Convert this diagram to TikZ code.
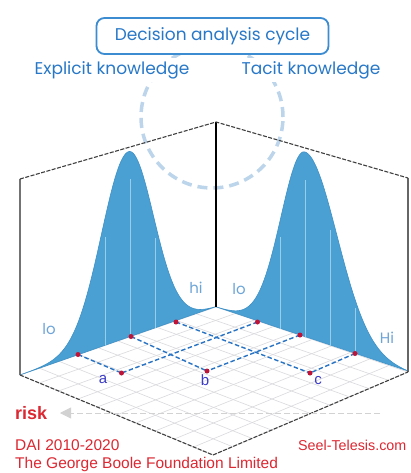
\documentclass[tikz,border=0pt]{standalone}
\usepackage{fontspec}
\setmainfont{Liberation Sans}
\newfontfamily\popfont{Poppins}
\usetikzlibrary{calc,arrows.meta}
\definecolor{bellblue}{RGB}{74,160,210}
\definecolor{bellline}{RGB}{62,145,200}
\definecolor{vlinec}{RGB}{150,205,235}
\definecolor{titleblue}{RGB}{40,120,200}
\definecolor{boxblue}{RGB}{60,140,210}
\definecolor{circblue}{RGB}{188,213,235}
\definecolor{lohiblue}{RGB}{110,165,215}
\definecolor{latblue}{RGB}{40,115,195}
\definecolor{dotred}{RGB}{190,20,55}
\definecolor{txtred}{RGB}{220,40,50}
\definecolor{abcblue}{RGB}{60,60,200}
\definecolor{gridgray}{RGB}{218,218,222}
\definecolor{arrgray}{RGB}{210,210,210}
\tikzset{
  titlebox/.style={draw=boxblue, line width=1.8pt, rounded corners=8pt, fill=white,
    minimum width=232pt, minimum height=36pt, text=titleblue,
    font=\popfont\fontsize{17}{19}\selectfont},
  knowbox/.style={fill=white, inner sep=3pt, text=titleblue, font=\popfont\fontsize{17}{19}\selectfont},
  lohi/.style={text=lohiblue, inner sep=0pt, font=\popfont\fontsize{15}{17}\selectfont},
  abc/.style={text=abcblue, inner sep=0pt, font=\fontsize{15}{17}\selectfont},
  redtext/.style={text=txtred, inner sep=0pt, anchor=west, font=\fontsize{15.5}{17}\selectfont},
  gridline/.style={draw=gridgray, line width=0.6pt},
  circ/.style={draw=circblue, line width=3.5pt, dash pattern=on 10pt off 6pt},
  bell/.style={fill=bellblue, draw=bellline, line width=0.6pt},
  innerline/.style={draw=vlinec, line width=0.8pt},
  topedge/.style={draw=black!75, line width=1.1pt, dash pattern=on 4pt off 1.5pt},
  vedge/.style={draw=black!70, line width=1.1pt},
  lattice/.style={draw=latblue, line width=1.4pt, dash pattern=on 4.5pt off 2.5pt},
  reddot/.style={circle, fill=dotred, inner sep=0pt, minimum size=5pt},
  riskarrow/.style={draw=arrgray, line width=0.8pt, dash pattern=on 6pt off 3pt,
    -{Triangle[length=11pt,width=11pt,color=arrgray,fill=arrgray]}},
  declare function={
    baseL(\t)=307+(216-\t)*0.3469;
    curveL(\t)=baseL(\t)-185.65*exp(-((\t-128.5)^2)/(2*(27-2*(\t>128.5))^2));
    baseR(\t)=307+(\t-216)*0.3385;
    curveR(\t)=baseR(\t)-185.1*exp(-((\t-305)^2)/(2*(24+8*(\t>305))^2));
  }
}
\begin{document}
\begin{tikzpicture}[x=1pt,y=-1pt]
\useasboundingbox[fill=white] (0,0) rectangle (411,473);
% floor corners
\coordinate (B) at (216,307);
\coordinate (L) at (20,375);
\coordinate (R) at (408,372);
\coordinate (F) at (213,455);
\coordinate (Ltop) at (20,179);
\coordinate (Btop) at (216,122);
\coordinate (Rtop) at (408,178);
% floor grid
\foreach \i in {0,...,10} {
  \pgfmathsetmacro\t{\i/10}
  \draw[gridline] ($(B)!\t!(R)$) -- ($(L)!\t!(F)$);
  \draw[gridline] ($(B)!\t!(L)$) -- ($(R)!\t!(F)$);
}
% dashed cycle circle
\draw[circ] (212,117) circle[radius=71pt];
% bell curves
\path[bell] plot[domain=20:216, samples=160] (\x,{curveL(\x)}) -- cycle;
\path[bell] plot[domain=216:408, samples=160] (\x,{curveR(\x)}) -- cycle;
\foreach \xx in {105,130,155} {
  \draw[innerline] (\xx,{baseL(\xx)}) -- (\xx,{baseL(\xx)-0.85*(baseL(\xx)-curveL(\xx))});
}
\foreach \xx in {280,305,330,355} {
  \draw[innerline] (\xx,{baseR(\xx)}) -- (\xx,{baseR(\xx)-0.85*(baseR(\xx)-curveR(\xx))});
}
% wall edges
\draw[vedge, draw=black!55] (Ltop) -- (L);
\draw[vedge, draw=black] (Btop) -- (B);
\draw[vedge, draw=black!60] (Rtop) -- (R);
\draw[topedge] (Ltop) -- (Btop) -- (Rtop);
\draw[topedge] (L) -- (F) -- (R);
% lattice points
\coordinate (D1) at (78,354.5);
\coordinate (D2) at (131,336.5);
\coordinate (D3) at (176,322);
\coordinate (E1) at (257.5,322);
\coordinate (E2) at (300,335);
\coordinate (E3) at (355,353.5);
\coordinate (PA) at (121.5,373);
\coordinate (PB) at (207,371);
\coordinate (PC) at (310,373);
\draw[lattice] (D1) -- (PA);
\draw[lattice] (D2) -- (PB);
\draw[lattice] (D3) -- (PC);
\draw[lattice] (E1) -- (PA);
\draw[lattice] (E2) -- (PB);
\draw[lattice] (E3) -- (PC);
\foreach \p in {D1,D2,D3,E1,E2,E3,PA,PB,PC} {
  \node[reddot] (dot\p) at (\p) {};
}
% labels on the floor
\node[abc] (la) at (103,380) {a};
\node[abc] (lb) at (205,380) {b};
\node[abc] (lc) at (318,381) {c};
% lo / hi
\node[lohi] (loL) at (49,329) {lo};
\node[lohi] (hiL) at (196,288) {hi};
\node[lohi] (loR) at (239,289) {lo};
\node[lohi] (hiR) at (387,338) {Hi};
% risk
\node[text=txtred, inner sep=0pt, anchor=west, font=\bfseries\fontsize{18}{20}\selectfont] (risk) at (15,413) {risk};
\coordinate (arrS) at (380,413);
\coordinate (arrE) at (60,413);
\draw[riskarrow] (arrS) -- (arrE);
% credits
\node[redtext] (dai) at (15,445) {DAI 2010-2020};
\node[redtext] (gbf) at (15,464) {The George Boole Foundation Limited};
\node[redtext, font=\fontsize{14.3}{17}\selectfont] (seel) at (298,445) {Seel-Telesis.com};
% title and knowledge labels
\node[titlebox] (title) at (212.5,36) {Decision analysis cycle};
\node[knowbox] (explicit) at (112,70) {Explicit knowledge};
\node[knowbox] (tacit) at (311,70) {Tacit knowledge};
\end{tikzpicture}
\end{document}
